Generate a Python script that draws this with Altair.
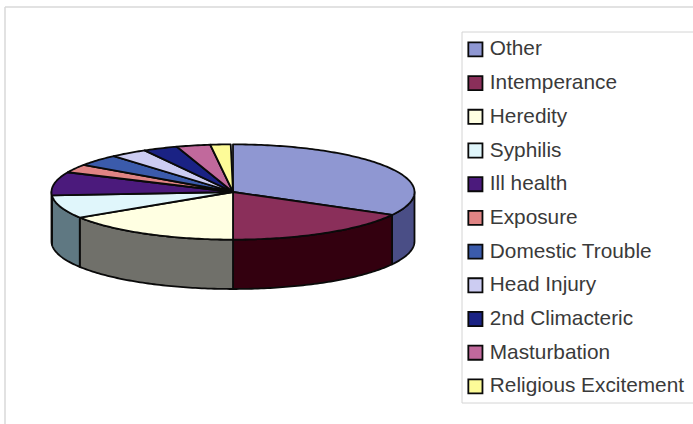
import math
import altair as alt

# Share of cases per reported cause, percent
causes = ["Other", "Intemperance", "Heredity", "Syphilis", "Ill health", "Exposure",
          "Domestic Trouble", "Head Injury", "2nd Climacteric", "Masturbation",
          "Religious Excitement"]
shares = [33.0, 17.0, 16.0, 7.9, 7.9, 2.8, 4.0, 3.3, 3.1, 3.0, 1.8]
top_colors = ["#8f97d2", "#8a2f5a", "#ffffe2", "#e0f6fb", "#4b1a7c", "#e08484",
              "#3b5bab", "#ccccf2", "#1a2284", "#c1699c", "#fdfb98"]
wall_colors = ["#4a4e86", "#33000f", "#70706a", "#5f7882", "#2a0f45", "#804848",
               "#20305c", "#707088", "#101448", "#6a3a55", "#88884f"]

# Tilted pie geometry in units of the horizontal radius
SQUASH = 0.2624
DEPTH = 0.272


def rim(a, b, drop=0.0):
    """Points along the rim from angle a to b, clockwise from twelve o'clock, in degrees."""
    n = max(2, int(abs(b - a)) + 1)
    out = []
    for i in range(n + 1):
        t = math.radians(a + (b - a) * i / n)
        out.append([math.sin(t), SQUASH * math.cos(t) - drop])
    return out


def feature(name, ring):
    return {"type": "Feature", "properties": {"name": name},
            "geometry": {"type": "Polygon", "coordinates": [ring + [ring[0]]]}}


tops, walls = [], []
start = 0.0
for name, share, wall in zip(causes, shares, wall_colors):
    end = start + share * 3.6
    tops.append(feature(name, [[0.0, 0.0]] + rim(start, end)))
    # Only the front half of the cylinder shows its wall
    a, b = max(start, 90.0), min(end, 270.0)
    if a < b:
        f = feature(name, rim(a, b) + rim(b, a, DEPTH))
        f["properties"]["wall"] = wall
        walls.append(f)
    start = end

projection = alt.Projection(type="identity", scale=181.5, translate=[228, 185], reflectY=True)
blank = alt.Data(values=[{}])
FRAME = "#d8d8d8"

# Chart frame: only its top and left edges fall inside the page
frame_top = alt.Chart(blank).mark_rule(color=FRAME, strokeWidth=1.5).encode(
    x=alt.value(0), x2=alt.value(688), y=alt.value(0))
frame_left = alt.Chart(blank).mark_rule(color=FRAME, strokeWidth=1.5).encode(
    y=alt.value(0), y2=alt.value(417), x=alt.value(0))

# Legend box runs off the right edge of the page
legend_box = alt.Chart(blank).mark_rect(
    fill="#ffffff", stroke="#d4d4d4", strokeWidth=1
).encode(x=alt.value(457), x2=alt.value(720), y=alt.value(25), y2=alt.value(396))

wall_layer = (
    alt.Chart(alt.Data(values=walls))
    .mark_geoshape(stroke="#0a0a0a", strokeWidth=1.8, strokeJoin="round")
    .encode(fill=alt.Fill("properties.wall:N", scale=None))
    .project(**projection.to_dict())
)

top_layer = (
    alt.Chart(alt.Data(values=tops))
    .mark_geoshape(stroke="#0a0a0a", strokeWidth=1.8, strokeJoin="round")
    .encode(
        fill=alt.Fill(
            "properties.name:N",
            scale=alt.Scale(domain=causes, range=top_colors),
            legend=alt.Legend(
                title=None,
                orient="none",
                legendX=453,
                legendY=25,
                padding=7,
                symbolType="square",
                symbolSize=200,
                symbolStrokeColor="#1a1a1a",
                symbolStrokeWidth=1.8,
                labelFont="Liberation Sans",
                labelFontSize=20.8,
                labelColor="#3a3a3a",
                labelLimit=260,
                labelOffset=4,
                rowPadding=10.7,
            ),
        )
    )
    .project(**projection.to_dict())
)

chart = (
    alt.layer(frame_top, frame_left, legend_box, wall_layer, top_layer)
    .properties(
        width=688,
        height=417,
        background="#ffffff",
        padding={"left": 5, "top": 7, "right": 0, "bottom": 0},
        autosize=alt.AutoSizeParams(type="none"),
        view=alt.ViewBackground(stroke=None),
    )
)

chart.save("out.html", embed_options={"renderer": "svg", "actions": False})
